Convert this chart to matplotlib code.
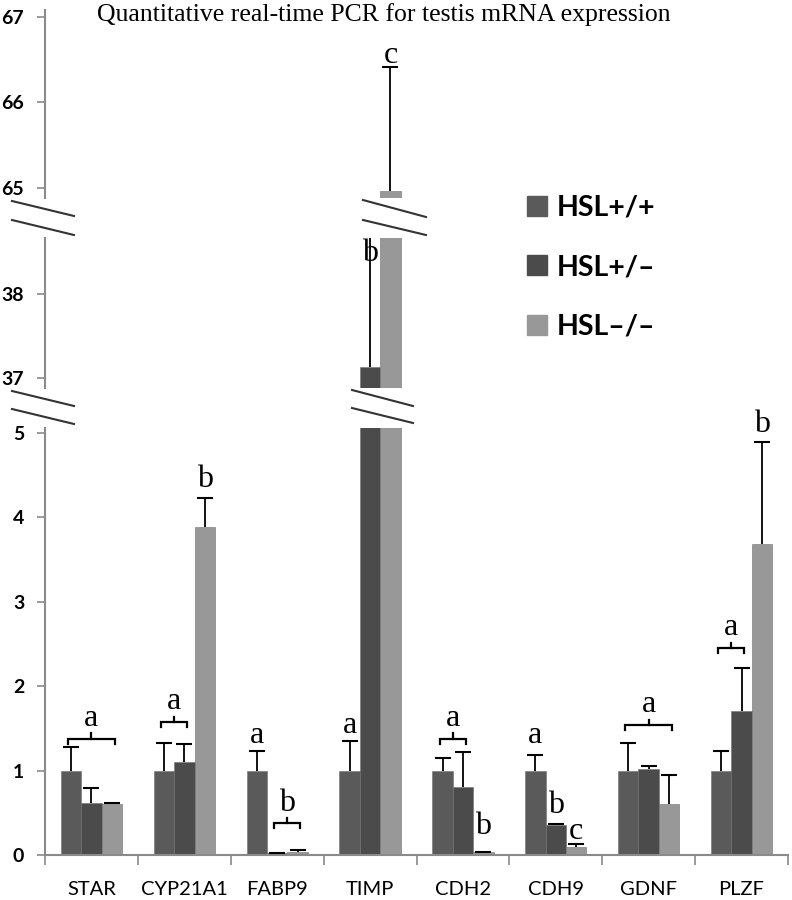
import numpy as np
import matplotlib
matplotlib.use("Agg")
import matplotlib.pyplot as plt
from matplotlib.lines import Line2D

# data
genes = ['STAR', 'CYP21A1', 'FABP9', 'TIMP', 'CDH2', 'CDH9', 'GDNF', 'PLZF']
groups = ['HSL+/+', 'HSL+/\u2013', 'HSL\u2013/\u2013']
wt = [1.0, 1.0, 1.0, 1.0, 1.0, 1.0, 1.0, 1.0]
het = [0.62, 1.10, 0.02, 37.13, 0.80, 0.36, 1.02, 1.71]
ko = [0.60, 3.89, 0.04, 64.96, 0.04, 0.10, 0.60, 3.68]
wt_err = [0.28, 0.33, 0.23, 0.35, 0.15, 0.19, 0.33, 0.23]
het_err = [0.17, 0.22, 0.00, 1.70, 0.42, 0.01, 0.03, 0.51]
ko_err = [0.02, 0.34, 0.02, 1.45, 0.00, 0.03, 0.35, 1.21]

# significance letters: (gene index, first bar, last bar, height, letter)
brackets = [(0, 0, 2, 1.38, 'a'), (1, 0, 1, 1.58, 'a'), (2, 1, 2, 0.375, 'b'),
            (4, 0, 1, 1.38, 'a'), (6, 0, 2, 1.54, 'a'), (7, 0, 1, 2.45, 'a')]
singles = [(1, 2, 4.45, 'b'), (2, 0, 1.42, 'a'), (3, 0, 1.54, 'a'), (3, 1, 38.49, 'b'),
           (3, 2, 66.55, 'c'), (4, 2, 0.34, 'b'), (5, 0, 1.42, 'a'), (5, 1, 0.59, 'b'),
           (5, 2, 0.28, 'c'), (7, 2, 5.10, 'b')]

colors = ['#5a5a5a', '#4b4b4b', '#989898']
spine_col = '#8a8a8a'
W, H = 792, 900
plt.rcParams['font.family'] = ['Lato', 'DejaVu Sans']

fig = plt.figure(figsize=(W / 100, H / 100), dpi=100)


def pix_axes(x0, x1, ytop, ybot):
    return fig.add_axes([x0 / W, 1 - ybot / H, (x1 - x0) / W, (ybot - ytop) / H])


ax_top = pix_axes(45, 788, 10, 198)
ax_mid = pix_axes(45, 788, 238, 388)
ax_bot = pix_axes(45, 788, 428, 855)
ax_top.set_ylim(64.88, 67.08)
ax_mid.set_ylim(36.88, 38.67)
ax_bot.set_ylim(0, 5.06)

x = np.arange(len(genes))
bw = 0.22
series = [wt, het, ko]
errs = [wt_err, het_err, ko_err]

for ax in (ax_top, ax_mid, ax_bot):
    for i in range(3):
        pos = x + (i - 1) * bw
        tops = np.array(series[i]) + np.array(errs[i])
        ax.bar(pos, series[i], bw, color=colors[i], edgecolor='#707070', linewidth=0.4,
               label=groups[i], zorder=2)
        ax.vlines(pos, series[i], tops, color='black', lw=1.3, zorder=3)
        ax.plot(pos, tops, ls='none', marker='_', ms=11, mew=1.5, color='black', zorder=3)
    ax.set_xlim(-0.5, len(genes) - 0.5)
    for s in ('top', 'right', 'bottom'):
        ax.spines[s].set_visible(False)
    ax.spines['left'].set_color(spine_col)
    ax.spines['left'].set_linewidth(1.5)
    ax.tick_params(axis='y', direction='out', length=6, width=1.2, color=spine_col,
                   labelsize=14, pad=9)
    ax.set_xticks([])

ax_top.set_yticks([65, 66, 67])
ax_mid.set_yticks([37, 38])
ax_bot.set_yticks([0, 1, 2, 3, 4, 5])
for ax in (ax_top, ax_mid, ax_bot):
    for t in ax.get_yticklabels():
        t.set_fontweight('bold')

ax_bot.spines['bottom'].set_visible(True)
ax_bot.spines['bottom'].set_color(spine_col)
ax_bot.spines['bottom'].set_linewidth(1.5)
ax_bot.set_xticks(np.arange(len(genes) + 1) - 0.5, minor=True)
ax_bot.tick_params(axis='x', which='minor', direction='out', length=7, width=1.2,
                   color=spine_col)
ax_bot.set_xticks(x)
ax_bot.set_xticklabels(genes, fontsize=14.5)
ax_bot.tick_params(axis='x', which='major', length=0, pad=19)

# letters and brackets
axes_for = lambda y: ax_top if y > 60 else (ax_mid if y > 30 else ax_bot)
for g, b0, b1, yb, letter in brackets:
    xa = g + (b0 - 1) * bw - 0.03
    xb = g + (b1 - 1) * bw + 0.03
    xm = (xa + xb) / 2
    ax_bot.plot([xa, xa, xb, xb], [yb - 0.06, yb, yb, yb - 0.06], color='black', lw=1.6,
                zorder=4, clip_on=False, solid_joinstyle='miter')
    ax_bot.plot([xm, xm], [yb, yb + 0.06], color='black', lw=1.6, zorder=4, clip_on=False)
    ax_bot.text(xm, yb + 0.24, letter, ha='center', va='center', fontsize=23,
                family='Liberation Serif', zorder=5)
for g, b, yl, letter in singles:
    ax = axes_for(yl)
    ax.text(g + (b - 1) * bw, yl, letter, ha='center', va='center', fontsize=23,
            family='Liberation Serif', zorder=5, clip_on=False)

# break marks on the axis and on the TIMP bars
for (x0, x1), (y0, y1) in [((12, 74), (201, 216)), ((12, 74), (220, 235)),
                           ((12, 74), (391, 406)), ((12, 74), (409, 424)),
                           ((363, 426), (200, 217)), ((363, 426), (220, 235)),
                           ((352, 413), (390, 406)), ((352, 413), (408, 423))]:
    fig.add_artist(Line2D([x0 / W, x1 / W], [1 - y0 / H, 1 - y1 / H], color='#333333',
                          lw=1.5))

# legend
handles = [plt.Rectangle((0, 0), 1, 1, color=c) for c in colors]
fig.legend(handles, groups, loc='upper left', bbox_to_anchor=(501 / W, 1 - 169 / H),
           frameon=False, prop={'family': 'Lato', 'weight': 'bold', 'size': 20.5},
           handlelength=0.7, handleheight=0.7, handletextpad=0.35, labelspacing=1.18)

fig.text(0.485, 1 - 15 / H, 'Quantitative real-time PCR for testis mRNA expression',
         ha='center', va='center', fontsize=18.5, family='Liberation Serif')

fig.savefig('out.png', dpi=100, facecolor='white')
